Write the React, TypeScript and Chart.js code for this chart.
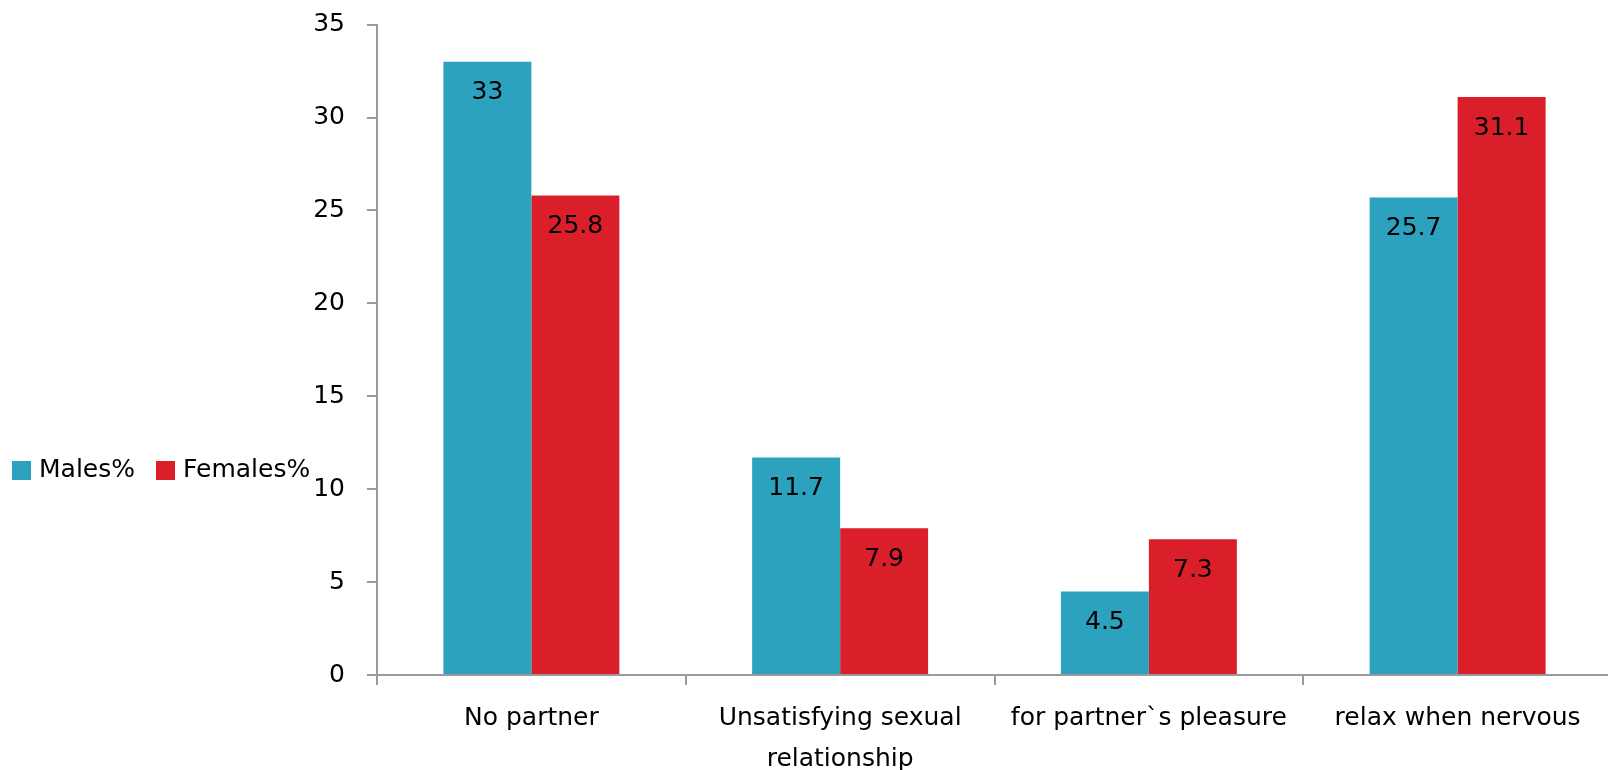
import React, { useEffect, useRef } from 'react';
import { Chart, registerables } from 'chart.js';

Chart.register(...registerables);

const categories: (string | string[])[] = [
  'No partner',
  ['Unsatisfying sexual', 'relationship'],
  'for partner`s pleasure',
  'relax when nervous',
];
const malesValues = [33, 11.7, 4.5, 25.7];
const femalesValues = [25.8, 7.9, 7.3, 31.1];
const seriesNames = ['Males%', 'Females%'];
const seriesColors = ['#2CA2BF', '#DA1F2A'];
const yMin = 0;
const yMax = 35;
const yStep = 5;

const FONT = '"DejaVu Sans", sans-serif';
const FONT_SIZE = 25;
const AXIS_COLOR = '#9a9a9a';

const valueLabelPlugin = {
  id: 'valueLabels',
  afterDatasetsDraw(chart: any) {
    const ctx = chart.ctx;
    ctx.save();
    ctx.font = `${FONT_SIZE}px ${FONT}`;
    ctx.fillStyle = '#000';
    ctx.textAlign = 'center';
    ctx.textBaseline = 'middle';
    chart.data.datasets.forEach((ds: any, i: number) => {
      const meta = chart.getDatasetMeta(i);
      meta.data.forEach((el: any, j: number) => {
        ctx.fillText(String(ds.data[j]), el.x, el.y + 31);
      });
    });
    ctx.restore();
  },
};

export default function App() {
  const ref = useRef<HTMLCanvasElement | null>(null);

  useEffect(() => {
    document.body.style.margin = '0';
    if (!ref.current) return;
    const chart = new Chart(ref.current, {
      type: 'bar',
      data: {
        labels: categories,
        datasets: [
          { label: seriesNames[0], data: malesValues, backgroundColor: seriesColors[0] },
          { label: seriesNames[1], data: femalesValues, backgroundColor: seriesColors[1] },
        ],
      },
      options: {
        responsive: false,
        animation: false,
        devicePixelRatio: 1,
        layout: { padding: { left: 277, top: 24.6, right: 0, bottom: 0 } },
        plugins: {
          legend: { display: false },
          tooltip: { enabled: false },
        },
        datasets: {
          bar: { categoryPercentage: 0.57, barPercentage: 1.0 },
        },
        scales: {
          x: {
            grid: {
              display: true,
              drawOnChartArea: false,
              offset: true,
              tickLength: 10,
              color: AXIS_COLOR,
              lineWidth: 2,
            },
            border: { display: true, color: AXIS_COLOR, width: 2 },
            ticks: {
              color: '#000',
              font: { family: FONT, size: FONT_SIZE, lineHeight: 1.64 },
              padding: 13,
              maxRotation: 0,
              autoSkip: false,
            },
            afterFit: (s: any) => {
              s.height = 95;
              s.paddingLeft = 0;
              s.paddingRight = 0;
            },
          },
          y: {
            min: yMin,
            max: yMax,
            ticks: {
              stepSize: yStep,
              color: '#000',
              font: { family: FONT, size: FONT_SIZE },
              padding: 22,
            },
            grid: {
              display: true,
              drawOnChartArea: false,
              tickLength: 10,
              color: AXIS_COLOR,
              lineWidth: 2,
            },
            border: { display: true, color: AXIS_COLOR, width: 2 },
            afterFit: (s: any) => {
              s.width = 100;
              s.paddingTop = 0;
              s.paddingBottom = 0;
            },
          },
        },
      },
      plugins: [valueLabelPlugin],
    });
    return () => chart.destroy();
  }, []);

  const legendItem = (i: number, left: number) => (
    <div
      key={i}
      style={{
        position: 'absolute',
        left,
        top: 454,
        display: 'flex',
        alignItems: 'center',
        fontFamily: FONT,
        fontSize: FONT_SIZE,
        color: '#000',
        whiteSpace: 'nowrap',
      }}
    >
      <span
        style={{
          display: 'inline-block',
          width: 19,
          height: 19,
          background: seriesColors[i],
          marginRight: 8,
          marginTop: 4,
        }}
      />
      <span>{seriesNames[i]}</span>
    </div>
  );

  return (
    <div
      style={{
        position: 'fixed',
        left: 0,
        top: 0,
        width: 1608,
        height: 770,
        overflow: 'hidden',
        background: '#fff',
      }}
    >
      <canvas ref={ref} width={1612} height={770} style={{ display: 'block' }} />
      {legendItem(0, 12)}
      {legendItem(1, 156)}
    </div>
  );
}
